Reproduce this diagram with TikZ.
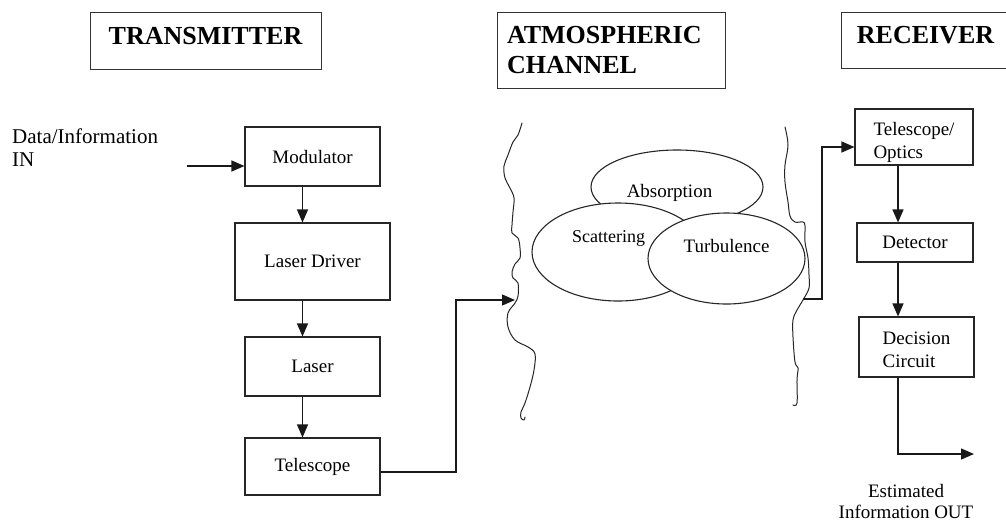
\documentclass[tikz,border=0pt]{standalone}
\usepackage{fontspec}
\setmainfont{Liberation Serif}
\usetikzlibrary{arrows.meta}
\begin{document}
\begin{tikzpicture}[x=1pt,y=-1pt,
  box/.style={draw=black!85, line width=1.1pt, inner sep=0pt, font=\fontsize{19}{23}\selectfont},
  head/.style={draw=black!80, line width=1pt, inner sep=0pt, font=\fontsize{26}{30}\selectfont\bfseries},
  txt/.style={inner sep=0pt, font=\fontsize{19}{23}\selectfont},
  arr/.style={draw=black!90, line width=1.2pt, -{Triangle[length=13pt,width=11pt]}},
  wavy/.style={draw=black!85, line width=1pt, line cap=round, line join=round},
  blob/.style={draw=black!85, line width=1.1pt, fill=white}]
\fill[white] (0,0) rectangle (1006,523);
\clip (0,0) rectangle (1006,523);

% headings
\node[head, minimum width=231pt, minimum height=57pt, text depth=10pt] (hTx) at (205.5,40.5) {TRANSMITTER};
\node[head, minimum width=228pt, minimum height=76pt, align=left, text width=208pt, inner xsep=10pt] (hCh) at (611,50) {ATMOSPHERIC\\CHANNEL};
\node[head, minimum width=169pt, minimum height=56pt, text depth=10pt] (hRx) at (925.5,40) {RECEIVER};

% transmitter chain
\node[box, minimum width=135pt, minimum height=59pt] (mod) at (312.5,156.5) {Modulator};
\node[box, minimum width=155pt, minimum height=77pt] (drv) at (312.5,261.5) {Laser Driver};
\node[box, minimum width=135pt, minimum height=59pt] (las) at (312.5,366.5) {Laser};
\node[box, minimum width=135pt, minimum height=57pt] (tel) at (312.5,466.5) {Telescope};

\node[inner sep=0pt, anchor=north west, align=left, font=\fontsize{21}{23}\selectfont] (din) at (12,129) {Data/Information\\IN};
\coordinate (dIn) at (187,166);
\draw[arr] (dIn) -- (dIn -| mod.west);

\coordinate (tx) at (302.5,0);
\draw[arr] (mod.south -| tx) -- (drv.north -| tx);
\draw[arr] (drv.south -| tx) -- (las.north -| tx);
\draw[arr] (las.south -| tx) -- (tel.north -| tx);

% atmospheric channel
\draw[blob] (677,187) ellipse [x radius=86, y radius=37];
\draw[blob] (618,252) ellipse [x radius=86, y radius=49];
\draw[blob] (726.5,258.5) ellipse [x radius=78.5, y radius=45.5];

\draw[wavy] plot[smooth, tension=0.6] coordinates {(522,123) (518,135) (513,142) (508,155) (504,166) (505,178) (510,188) (514,198) (513,212) (512,225) (512,233) (518,238) (520,248) (520,258) (515,264) (512,272) (513,278) (518,283) (518,296) (515,303) (508,313) (508,327) (515,340) (528,347) (535,354) (534,370) (530,387) (525,403) (521,412) (521,418) (524,420) (525,417)};
\draw[wavy] plot[smooth, tension=0.6] coordinates {(785,127) (788,145) (785,165) (785,182) (788,202) (790,216) (795,222) (803,222) (805,226) (805,242) (808,258) (809,275) (809,288) (803,300) (797,310) (793,320) (793,337) (795,362) (798,368) (797,380) (797,403) (793,405)};

\node[txt, anchor=base] (tAbs) at (669.5,197) {Absorption};
\node[inner sep=0pt, anchor=base, font=\fontsize{18}{20}\selectfont] (tSca) at (608.5,242) {Scattering};
\node[txt, anchor=base] (tTur) at (726.5,252) {Turbulence};

% connectors transmitter -> channel -> receiver
\coordinate (tk) at (456,300);
\coordinate (chIn) at (515,300);
\draw[arr] ([yshift=-5.5pt]tel.east) -| (tk) -- (chIn);

% receiver chain
\node[box, minimum width=118pt, minimum height=56pt, align=left] (opt) at (914,137) {\rule{0pt}{25pt}Telescope/\\Optics};
\node[box, minimum width=116pt, minimum height=39pt] (det) at (915,242.5) {Detector};
\node[box, minimum width=115pt, minimum height=60pt, align=left] (dec) at (916.5,347) {\rule{0pt}{19pt}Decision\\Circuit};

\coordinate (chOut) at (803,299);
\coordinate (rk) at (822,147);
\draw[arr] (chOut) -| (rk) -- (rk -| opt.west);

\coordinate (rx) at (898,0);
\draw[arr] (opt.south -| rx) -- (det.north -| rx);
\draw[arr] (det.south -| rx) -- (dec.north -| rx);
\coordinate (out) at (974,454);
\draw[arr] (dec.south -| rx) |- (out);

\node[inner sep=0pt, anchor=north, align=center, font=\fontsize{19}{21}\selectfont] (dout) at (906,484) {Estimated\\Information OUT};
\end{tikzpicture}
\end{document}
